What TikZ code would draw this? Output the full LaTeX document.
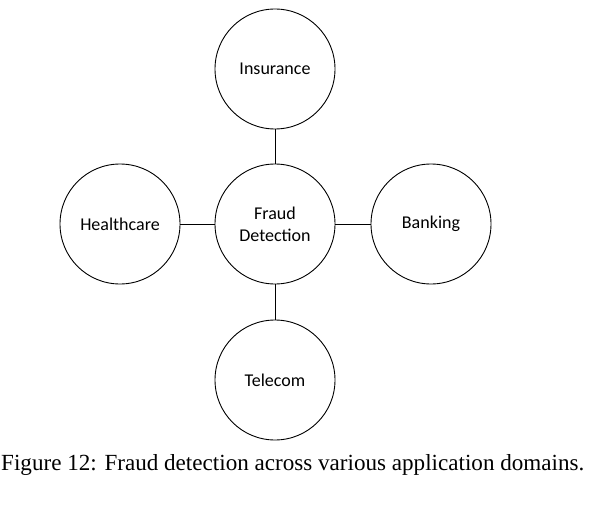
\documentclass[tikz,border=0pt]{standalone}
\usepackage{fontspec}
\setmainfont{Liberation Serif}
\newfontfamily\calib{Carlito}
\begin{document}
\begin{tikzpicture}[x=1pt,y=-1pt,
  dom/.style={circle,draw,line width=0.9pt,minimum size=120pt,inner sep=0pt,align=center,font=\calib\fontsize{18}{22}\selectfont},
  link/.style={line width=0.9pt}]
\useasboundingbox (0,0) rectangle (608,508);
\node[dom] (c) at (275,224) {Fraud\\Detection};
\node[dom] (t) at (275,69) {Insurance};
\node[dom] (l) at (120,224) {Healthcare};
\node[dom] (r) at (431,224) {Banking};
\node[dom] (b) at (275,380) {Telecom};
\draw[link] (t) -- (c);
\draw[link] (l) -- (c);
\draw[link] (r) -- (c);
\draw[link] (b) -- (c);
\node[font=\fontsize{23.1}{27}\selectfont,anchor=base west,inner sep=0pt] (cap) at (1,470) {Figure 12: Fraud detection across various application domains.};
\end{tikzpicture}
\end{document}
